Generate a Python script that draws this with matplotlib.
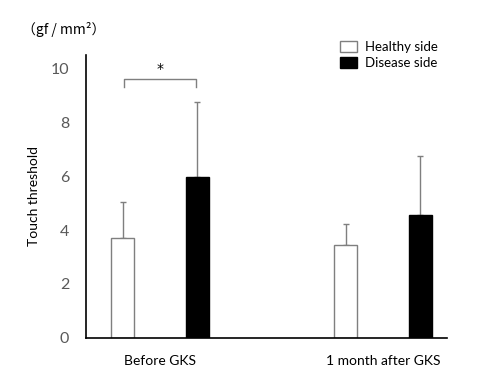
import numpy as np
import matplotlib
matplotlib.use("Agg")
import matplotlib.pyplot as plt
from matplotlib.patches import Patch

plt.rcParams['font.family'] = ['Lato', 'DejaVu Sans']

# data
groups = ["Before GKS", "1 month after GKS"]
healthy = [3.69, 3.45]
healthy_sd = [1.35, 0.79]
disease = [5.96, 4.55]
disease_sd = [2.81, 2.20]
series_labels = ["Healthy side", "Disease side"]

fig = plt.figure(figsize=(4.83, 3.92), dpi=100)
ax = fig.add_axes([0.178, 0.138, 0.747, 0.722])

x = np.arange(len(groups))
off = 0.167
w = 0.103
grey = "#7f7f7f"

ax.bar(x - off, healthy, w, color="white", edgecolor=grey, linewidth=1.0, zorder=2)
ax.bar(x + off, disease, w, color="black", edgecolor="black", linewidth=1.0, zorder=2)
ax.errorbar(x - off, healthy, yerr=[np.zeros(2), healthy_sd], fmt="none",
            ecolor=grey, elinewidth=1.0, capsize=2, capthick=1.0, zorder=1)
ax.errorbar(x + off, disease, yerr=[np.zeros(2), disease_sd], fmt="none",
            ecolor=grey, elinewidth=1.0, capsize=2, capthick=1.0, zorder=1)

ax.set_xlim(-0.332, 1.287)
ax.set_ylim(0, 10.5)
ax.set_yticks([0, 2, 4, 6, 8, 10])
ax.set_xticks(x)
ax.set_xticklabels(groups, fontsize=10, color="black")
ax.tick_params(axis="y", length=0, labelsize=11.5, labelcolor="#595959", pad=12)
ax.tick_params(axis="x", length=0, pad=12)
for s in ["top", "right"]:
    ax.spines[s].set_visible(False)
ax.spines["left"].set_linewidth(1.2)
ax.spines["bottom"].set_linewidth(1.2)

ax.set_ylabel("Touch threshold", fontsize=10, labelpad=8)

# significance bracket
bx0, bx1, by = -off + 0.005, off - 0.005, 9.6
ax.plot([bx0, bx0, bx1, bx1], [by - 0.3, by, by, by - 0.3], color=grey, lw=1.0)
ax.text(0, by + 0.1, "*", ha="center", va="bottom", fontsize=10,
        family="DejaVu Sans")

fig.text(0.045, 0.925, "（gf / mm²）", fontsize=10, ha="left", va="center",
         family=['Noto Sans CJK JP', 'DejaVu Sans'])

handles = [Patch(facecolor="white", edgecolor=grey), Patch(facecolor="black", edgecolor="black")]
fig.legend(handles, series_labels, loc="upper left", bbox_to_anchor=(0.68, 0.925),
           frameon=False, fontsize=9.5, handlelength=1.3, handleheight=0.9,
           handletextpad=0.6, labelspacing=0.3)

fig.savefig("out.png", dpi=100)
